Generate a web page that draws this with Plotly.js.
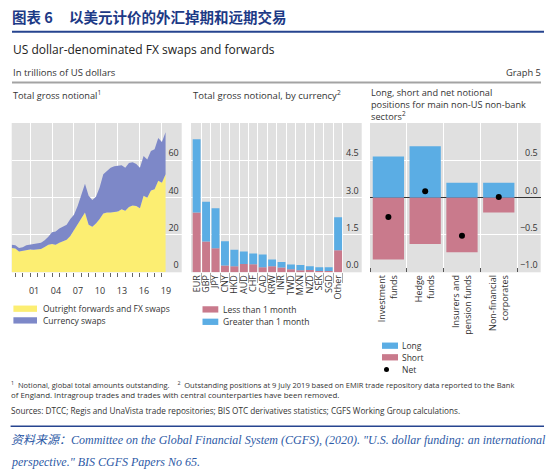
<!DOCTYPE html>
<html><head><meta charset="utf-8">
<script src="https://cdn.plot.ly/plotly-3.0.1.min.js"></script>
<style>html,body{margin:0;padding:0;background:#fff}#chart{width:550px;height:472px}</style>
</head><body><div id="chart"></div>
<script>
// ---------- Panel 1: total gross notional (USD trn), semi-annual ----------
const periods = [1998.5,1999.0,1999.5,2000.0,2000.5,2001.0,2001.5,2002.0,2002.5,2003.0,2003.5,
  2004.0,2004.5,2005.0,2005.5,2006.0,2006.5,2007.0,2007.5,2008.0,2008.5,2009.0,2009.5,2010.0,
  2010.5,2011.0,2011.5,2012.0,2012.5,2013.0,2013.5,2014.0,2014.5,2015.0,2015.5,2016.0,2016.5,
  2017.0,2017.5,2018.0,2018.5,2019.0,2019.5];
const outrightFwdSwaps = [13.0,12.8,11.2,11.6,12.2,12.2,12.1,12.3,12.5,13.5,14.8,15.1,14.8,15.8,
  16.6,17.5,19.5,22.6,26.0,29.5,32.0,25.5,24.4,26.2,28.5,31.5,32.0,32.0,32.3,32.6,33.8,33.0,35.0,
  35.8,35.5,34.3,41.0,40.0,43.8,44.5,49.0,48.0,52.5];
const currencySwaps = [1.8,1.7,1.8,1.8,2.3,2.6,2.9,3.0,3.3,3.7,4.2,6.3,7.0,7.7,7.9,8.0,9.0,8.2,9.5,
  12.5,15.5,15.5,14.4,14.3,17.0,21.0,22.5,24.0,24.5,24.4,23.5,23.0,23.5,23.2,22.5,21.7,21.3,20.5,
  21.2,21.5,23.0,21.8,22.5];
const yearTickVals = [2001,2004,2007,2010,2013,2016,2019];
const yearTickText = ['01','04','07','10','13','16','19'];
const yearMinorTicks = [1999,2000,2001,2002,2003,2004,2005,2006,2007,2008,2009,2010,2011,2012,2013,2014,2015,2016,2017,2018,2019];
const p1TickVals = [0,20,40,60];

// ---------- Panel 2: by currency ----------
const currencies = ['EUR','GBP','JPY','CNY','HKD','AUD','CHF','CAD','KRW','INR','TWD','MXN','NZD','SEK','SGD','Other'];
const lessThan1m = [2.40,1.24,0.97,0.27,0.24,0.33,0.32,0.20,0.24,0.19,0.12,0.08,0.09,0.05,0.05,0.89];
const greaterThan1m = [2.95,1.60,1.60,0.98,0.67,0.51,0.44,0.52,0.27,0.22,0.19,0.21,0.15,0.15,0.15,1.32];
const p2TickVals = [0,1.5,3.0,4.5];

// ---------- Panel 3: sectors ----------
const sectors = ['Investment<br>funds','Hedge<br>funds','Insurers and<br>pension funds','Non-financial<br>corporates'];
const longPos = [0.55,0.69,0.20,0.20];
const shortPos = [-0.83,-0.62,-0.73,-0.20];
const netPos = [-0.26,0.085,-0.51,0.01];
const p3TickVals = [-1.0,-0.5,0,0.5];
const p3TickText = ['\u22121.0','\u22120.5','0.0','0.5'];

const seriesNames = {
  outright:'Outright forwards and FX swaps', cswap:'Currency swaps',
  less:'Less than 1 month', greater:'Greater than 1 month',
  long:'Long', short:'Short', net:'Net'
};

// ---------- styling ----------
const C = {yellow:'#fcee72', lav:'#7d88c8', pink:'#c97a8c', blue:'#5badE4', bg:'#e0e0e0', text:'#333333'};
const W = 550, H = 472;
const X = p => p / W, Y = p => 1 - p / H;
const FONT = 'Open Sans, Noto Sans, sans-serif';

const catIdx2 = currencies.map((_, i) => i);
const catBounds2 = currencies.map((_, i) => i + 0.5);
const catIdx3 = sectors.map((_, i) => i);
const catBounds3 = [-0.5].concat(sectors.map((_, i) => i + 0.5));

const traces = [
  {type:'scatter', mode:'lines', x:periods, y:outrightFwdSwaps, stackgroup:'p1', name:seriesNames.outright,
   line:{width:0, color:C.yellow}, fillcolor:C.yellow, xaxis:'x', yaxis:'y', showlegend:false, hoverinfo:'skip'},
  {type:'scatter', mode:'lines', x:periods, y:currencySwaps, stackgroup:'p1', name:seriesNames.cswap,
   line:{width:0, color:C.lav}, fillcolor:C.lav, xaxis:'x', yaxis:'y', showlegend:false, hoverinfo:'skip'},
  {type:'bar', x:catIdx2, y:lessThan1m, name:seriesNames.less, marker:{color:C.pink}, width:0.84,
   xaxis:'x2', yaxis:'y2', showlegend:false},
  {type:'bar', x:catIdx2, y:greaterThan1m, name:seriesNames.greater, marker:{color:C.blue}, width:0.84,
   xaxis:'x2', yaxis:'y2', showlegend:false},
  {type:'bar', x:catIdx3, y:longPos, name:seriesNames.long, marker:{color:C.blue}, width:0.85,
   xaxis:'x3', yaxis:'y3', showlegend:false},
  {type:'bar', x:catIdx3, y:shortPos, name:seriesNames.short, marker:{color:C.pink}, width:0.85,
   xaxis:'x3', yaxis:'y3', showlegend:false},
  {type:'scatter', mode:'markers', x:catIdx3, y:netPos, name:seriesNames.net,
   marker:{color:'#000', size:6}, xaxis:'x3', yaxis:'y3', showlegend:false}
];

const tf = {family:FONT, size:9, color:C.text};
const yCommon = {side:'right', ticklabelposition:'inside', showgrid:true, gridcolor:'#ffffff', gridwidth:1,
  ticks:'', zeroline:false, tickfont:tf, ticklabelshift:-7, fixedrange:true, tickmode:'array'};

const layout = {
  width:W, height:H, margin:{l:0,r:0,t:0,b:0}, paper_bgcolor:'#fff', plot_bgcolor:C.bg,
  font:{family:FONT, size:9, color:C.text}, barmode:'relative', showlegend:false,
  xaxis:{domain:[X(11.7),X(181.7)], range:[1998.5,2021.7], anchor:'y', tickmode:'array',
    tickvals:yearTickVals, ticktext:yearTickText, ticks:'outside', ticklen:4, tickcolor:'#666',
    showgrid:true, gridcolor:'#ffffff', zeroline:false, ticklabelshift:4, ticklabelstandoff:6, tickfont:tf,
    minor:{tickmode:'array', tickvals:yearMinorTicks, ticks:'outside', ticklen:4, tickcolor:'#666', showgrid:false}},
  yaxis:Object.assign({domain:[Y(272.3),Y(123)], range:[0,80], anchor:'x', tickvals:p1TickVals}, yCommon),
  xaxis2:{domain:[X(191),X(361.7)], range:[-0.6,17.5], anchor:'y2', tickmode:'array', tickvals:catIdx2,
    ticktext:currencies, tickangle:-90, ticks:'', showgrid:false, zeroline:false, tickfont:tf,
    minor:{tickmode:'array', tickvals:catBounds2, showgrid:true, gridcolor:'#ffffff', ticks:'outside', ticklen:10, tickcolor:'#aaa'}},
  yaxis2:Object.assign({domain:[Y(272.3),Y(123)], range:[0,6.0], anchor:'x2', tickvals:p2TickVals, tickformat:'.1f'}, yCommon),
  xaxis3:{domain:[X(370),X(540.7)], range:[-0.5,4.14], anchor:'y3', tickmode:'array', tickvals:catIdx3,
    ticktext:sectors, tickangle:-90, ticks:'', showgrid:false, zeroline:false, tickfont:tf,
    minor:{tickmode:'array', tickvals:catBounds3, showgrid:true, gridcolor:'#ffffff', ticks:'inside', ticklen:4, tickcolor:'#555'}},
  yaxis3:Object.assign({domain:[Y(272.3),Y(123)], range:[-1,1], anchor:'x3', tickvals:p3TickVals, ticktext:p3TickText}, yCommon,
    {zeroline:true, zerolinecolor:'#333', zerolinewidth:1}),
  shapes:[], annotations:[]
};

function txt(x, y, text, o) {
  o = o || {};
  return {xref:'paper', yref:'paper', x:X(x), y:Y(y), text:text, showarrow:false,
    xanchor:o.xa || 'left', yanchor:o.ya || 'middle', align:o.align || 'left',
    font:{family:o.family || FONT, size:o.size || 9, color:o.color || C.text, weight:o.weight || 'normal'}};
}
function hline(x0, x1, y, color, w) {
  return {type:'line', xref:'paper', yref:'paper', x0:X(x0), x1:X(x1), y0:Y(y), y1:Y(y), line:{color:color, width:w}};
}
function swatch(x0, x1, yc, hgt, color) {
  return {type:'rect', xref:'paper', yref:'paper', x0:X(x0), x1:X(x1), y0:Y(yc + hgt/2), y1:Y(yc - hgt/2),
    fillcolor:color, line:{width:0}};
}

const A = layout.annotations, S = layout.shapes;
const CJK = 'Noto Sans CJK SC, sans-serif';
// header
A.push(txt(10, 16, '图表 6', {family:CJK, size:14.5, color:'#1d3a86', weight:'bold'}));
A.push(txt(66.5, 16, '以美元计价的外汇掉期和远期交易', {family:CJK, size:14.5, color:'#1d3a86', weight:'bold'}));
S.push(hline(12, 544, 31.7, '#26448f', 2));
A.push(txt(10.5, 49, 'US dollar-denominated FX swaps and forwards', {size:12, color:'#222'}));
A.push(txt(10.5, 72, 'In trillions of US dollars', {size:9.5}));
A.push(txt(543, 72, 'Graph 5', {size:9.3, xa:'right'}));
S.push(hline(12, 541, 82.5, '#a3a3a3', 2));
// panel titles
A.push(txt(10.5, 95, 'Total gross notional<sup>1</sup>', {size:9.2}));
A.push(txt(190.5, 95, 'Total gross notional, by currency<sup>2</sup>', {size:9.5}));
A.push(txt(368.5, 105, 'Long, short and net notional<br>positions for main non-US non-bank<br>sectors<sup>2</sup>', {size:9.2}));
// legends
S.push(swatch(13.4, 37, 308.7, 6.3, C.yellow));
A.push(txt(40.5, 308.7, seriesNames.outright, {size:8.5}));
S.push(swatch(13.4, 37, 320.4, 6.3, C.lav));
A.push(txt(40.5, 320.4, seriesNames.cswap, {size:8.5}));
S.push(swatch(202.5, 218.3, 309.4, 6.3, C.pink));
A.push(txt(220.5, 309.4, seriesNames.less, {size:8.5}));
S.push(swatch(202.5, 218.3, 321.8, 6.3, C.blue));
A.push(txt(220.5, 321.8, seriesNames.greater, {size:8.5}));
S.push(swatch(382, 398, 345.7, 6.3, C.blue));
A.push(txt(400, 345.7, seriesNames.long, {size:8.5}));
S.push(swatch(382, 398, 357.3, 6.3, C.pink));
A.push(txt(400, 357.3, seriesNames.short, {size:8.5}));
S.push({type:'circle', xref:'paper', yref:'paper', x0:X(384), x1:X(389), y0:Y(372.1), y1:Y(367.1), fillcolor:'#000', line:{width:0}});
A.push(txt(400, 369.6, seriesNames.net, {size:8.5}));
// footnotes
A.push(txt(9, 384, '<sup>1</sup>  Notional, global total amounts outstanding.    <sup>2</sup>  Outstanding positions at 9 July 2019 based on EMIR trade repository data reported to the Bank', {size:7.5}));
A.push(txt(9, 395.4, 'of England. Intragroup trades and trades with central counterparties have been removed.', {size:7.9}));
A.push(txt(9, 410.5, 'Sources: DTCC; Regis and UnaVista trade repositories; BIS OTC derivatives statistics; CGFS Working Group calculations.', {size:8.2}));
S.push(hline(10.6, 544, 426.3, '#26448f', 1.5));
const SER = 'Liberation Serif, Noto Sans CJK SC, serif';
A.push(txt(9, 440.4, '<i>资料来源：Committee on the Global Financial System (CGFS), (2020). "U.S. dollar funding: an international</i>', {family:SER, size:12, color:'#2d5aa6'}));
A.push(txt(9, 462.3, '<i>perspective." BIS CGFS Papers No 65.</i>', {family:SER, size:12, color:'#2d5aa6'}));

Plotly.newPlot('chart', traces, layout, {displayModeBar:false, staticPlot:true});
</script></body></html>
